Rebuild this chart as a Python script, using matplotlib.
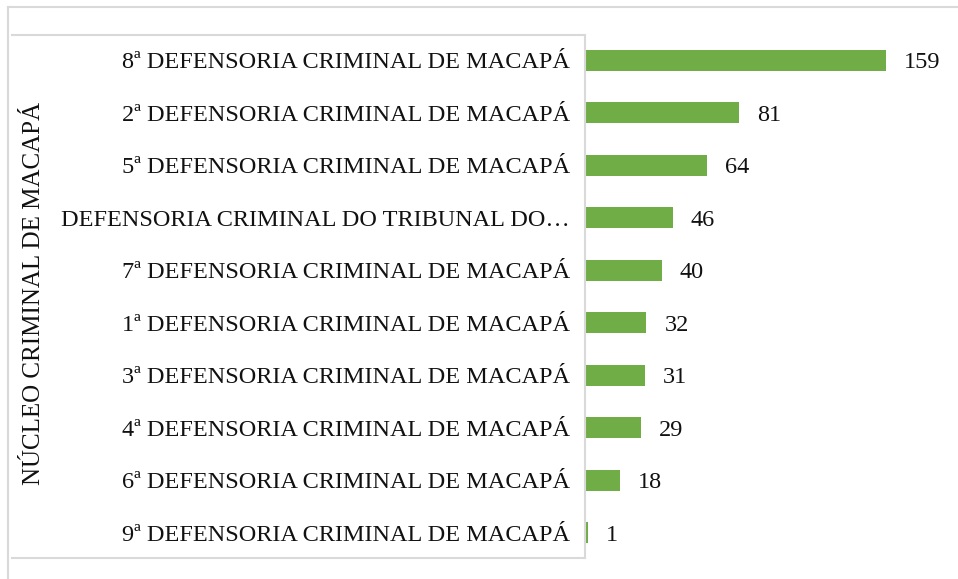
import matplotlib.pyplot as plt
from matplotlib.lines import Line2D

plt.rcParams['font.family'] = ['Liberation Serif', 'DejaVu Serif']

# dados
categorias = [
    "8ª DEFENSORIA CRIMINAL DE MACAPÁ",
    "2ª DEFENSORIA CRIMINAL DE MACAPÁ",
    "5ª DEFENSORIA CRIMINAL DE MACAPÁ",
    "DEFENSORIA CRIMINAL DO TRIBUNAL DO…",
    "7ª DEFENSORIA CRIMINAL DE MACAPÁ",
    "1ª DEFENSORIA CRIMINAL DE MACAPÁ",
    "3ª DEFENSORIA CRIMINAL DE MACAPÁ",
    "4ª DEFENSORIA CRIMINAL DE MACAPÁ",
    "6ª DEFENSORIA CRIMINAL DE MACAPÁ",
    "9ª DEFENSORIA CRIMINAL DE MACAPÁ",
]
valores = [159, 81, 64, 46, 40, 32, 31, 29, 18, 1]
grupo = "NÚCLEO CRIMINAL DE MACAPÁ"

W, H = 958, 579
fig = plt.figure(figsize=(W / 100, H / 100), dpi=100)

# eixo em pixels
left, right, top, bottom = 586, 926, 34, 559
ax = fig.add_axes([left / W, 1 - bottom / H, (right - left) / W, (bottom - top) / H])

pos = list(range(len(categorias)))
ax.barh(pos, valores, height=0.4, color="#70AD47")
ax.set_ylim(len(categorias) - 0.5, -0.5)
ax.set_xlim(0, 180)

for y, v in zip(pos, valores):
    ax.text(v + 9.5, y, str(v), va="center_baseline", ha="left", fontsize=17.5, color="#111111")

ax.set_yticks(pos)
ax.set_yticklabels(categorias, fontsize=17.5, color="#111111", va="center_baseline")
ax.tick_params(axis="y", length=0, pad=11.5)
ax.set_xticks([])
for s in ax.spines.values():
    s.set_visible(False)

# linhas da caixa do grupo e borda externa
cinza = "#d9d9d9"
def linha(x0, y0, x1, y1):
    fig.add_artist(Line2D([x0 / W, x1 / W], [1 - y0 / H, 1 - y1 / H], color=cinza, lw=1.5))

linha(8, 7, W, 7)
linha(8, 7, 8, H)
linha(12, 35, 585, 35)
linha(585, 35, 585, 558)
linha(12, 558, 585, 558)

fig.text(34 / W, 1 - 293 / H, grupo, rotation=90, ha="center", va="center",
         fontsize=18, color="#111111")

fig.savefig("out.png", dpi=100)
